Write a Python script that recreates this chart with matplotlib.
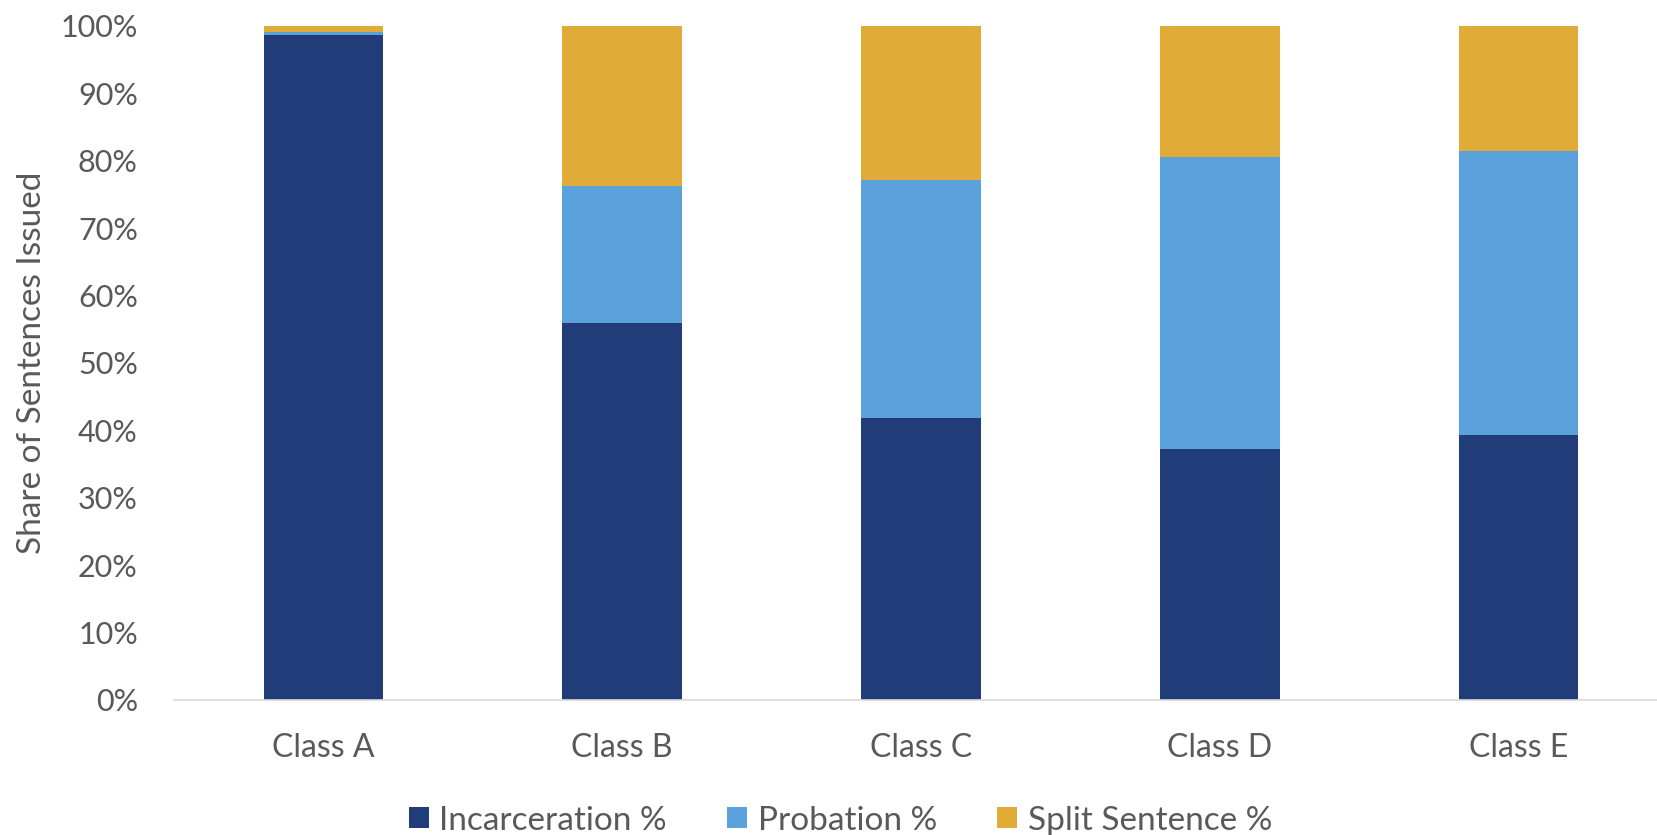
import numpy as np
import matplotlib
matplotlib.use("Agg")
import matplotlib.pyplot as plt

# categories and stacked shares (percent)
classes = ["Class A", "Class B", "Class C", "Class D", "Class E"]
incarceration = [98.65, 55.9, 41.9, 37.2, 39.25]
probation = [0.5, 20.4, 35.2, 43.3, 42.25]
split_sentence = [0.85, 23.7, 22.9, 19.5, 18.5]

series_names = ["Incarceration %", "Probation %", "Split Sentence %"]
colors = ["#213D79", "#5BA1DB", "#E0AC37"]
TEXT = "#595959"

plt.rcParams["font.family"] = ["Lato", "DejaVu Sans"]

fig = plt.figure(figsize=(16.57, 8.35), dpi=100)
ax = fig.add_axes([0.105, 0.1617, 0.9017, 0.8072])

x = np.arange(len(classes))
bottom = np.zeros(len(classes))
for vals, name, col in zip([incarceration, probation, split_sentence], series_names, colors):
    vals = np.array(vals) / 100.0
    ax.bar(x, vals, width=0.4, bottom=bottom, color=col, label=name)
    bottom += vals

ax.set_xlim(-0.5, len(classes) - 0.5)
ax.set_ylim(0, 1)
ax.set_yticks(np.arange(0, 1.01, 0.1))
ax.set_yticklabels(["{}%".format(int(round(v * 100))) for v in np.arange(0, 1.01, 0.1)])
ax.set_xticks(x)
ax.set_xticklabels(classes)
ax.tick_params(axis="both", length=0, colors=TEXT)
ax.tick_params(axis="y", labelsize=22, pad=26)
ax.tick_params(axis="x", labelsize=23, pad=24)

for side in ["top", "right", "left"]:
    ax.spines[side].set_visible(False)
ax.spines["bottom"].set_color("#D9D9D9")
ax.spines["bottom"].set_linewidth(1.2)

ax.set_ylabel("Share of Sentences Issued", fontsize=24, color=TEXT, labelpad=10)

ax.legend(loc="center", bbox_to_anchor=(0.446, -0.179), ncol=3, frameon=False,
          fontsize=24, labelcolor=TEXT, handlelength=0.6, handleheight=0.6,
          columnspacing=1.8, handletextpad=0.32)

fig.savefig("out.png", dpi=100)
